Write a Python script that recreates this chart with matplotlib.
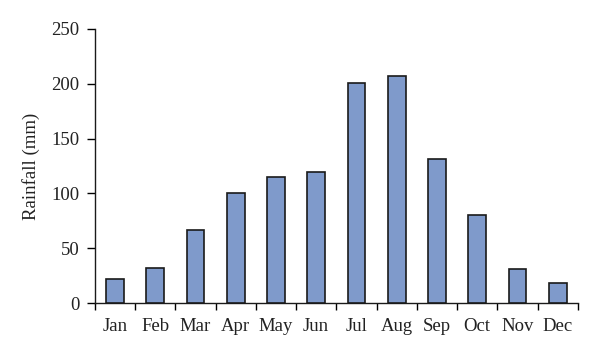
import matplotlib
matplotlib.use("Agg")
import matplotlib.pyplot as plt
import numpy as np

months = ["Jan", "Feb", "Mar", "Apr", "May", "Jun", "Jul", "Aug", "Sep", "Oct", "Nov", "Dec"]
rainfall = [22, 32, 67, 100, 115, 119.5, 201, 207, 131, 80.5, 31, 18.5]
yticks = [0, 50, 100, 150, 200, 250]

plt.rcParams['font.family'] = ['Liberation Serif', 'DejaVu Serif']

fig = plt.figure(figsize=(6, 3.57), dpi=100)
ax = fig.add_axes([0.158, 0.151, 0.805, 0.768])

x = np.arange(len(months))
ax.bar(x, rainfall, width=0.44, color="#7F9ACB", edgecolor="#1a1a1a", linewidth=1.2, zorder=3)

ax.set_xlim(-0.5, len(months) - 0.5)
ax.set_ylim(0, 250)
ax.set_yticks(yticks)
ax.set_yticklabels([str(v) for v in yticks], fontsize=13.5, color="#222222")

ax.set_xticks(np.arange(-0.5, len(months), 1.0))
ax.set_xticklabels([])
ax.set_xticks(x, minor=True)
ax.set_xticklabels(months, minor=True, fontsize=13.5, color="#222222")
ax.tick_params(axis='x', which='minor', length=0, pad=11)
ax.tick_params(axis='x', which='major', length=5, width=1.0, direction='out')
ax.tick_params(axis='y', length=6, width=1.0, direction='out', pad=5)

for s in ["top", "right"]:
    ax.spines[s].set_visible(False)
for s in ["left", "bottom"]:
    ax.spines[s].set_linewidth(1.0)
    ax.spines[s].set_color("#1a1a1a")

ax.set_ylabel("Rainfall (mm)", fontsize=13.5, color="#222222", labelpad=8)

fig.savefig("out.png", dpi=100)
